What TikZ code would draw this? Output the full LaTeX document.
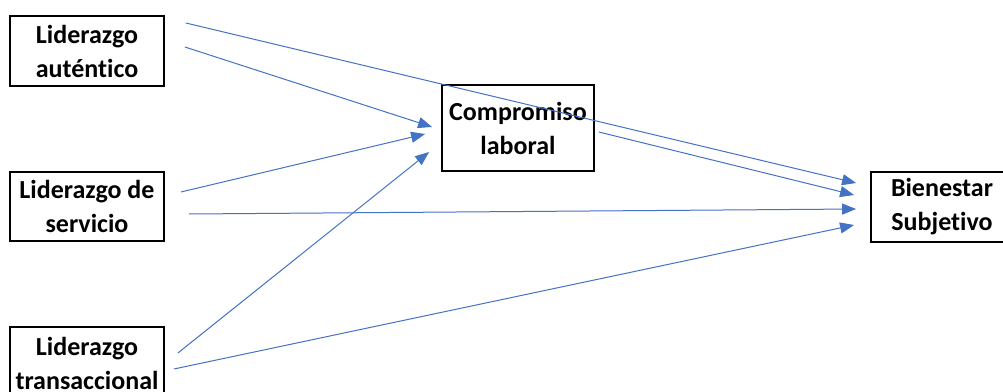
\documentclass[tikz,border=0pt]{standalone}
\usepackage{fontspec}
\setmainfont[Ligatures={NoCommon}]{Carlito}
\usetikzlibrary{arrows.meta}
\definecolor{arrowblue}{RGB}{68,114,196}
\begin{document}
\begin{tikzpicture}[x=1pt,y=-1pt,
  box/.style={draw=black,line width=1.8pt,align=center,inner sep=0pt,
    font=\fontsize{26}{34}\selectfont\bfseries},
  link/.style={draw=arrowblue,line width=1pt,-{Triangle[length=14pt,width=11pt]}}]
\useasboundingbox (0,0) rectangle (1003,391);
\fill[white] (0,0) rectangle (1003,391);
\node[box,minimum width=154pt,minimum height=70pt] (a) at (87,51) {Liderazgo\\auténtico};
\node[box,minimum width=154pt,minimum height=69pt] (s) at (87,206.5) {Liderazgo de\\servicio};
\node[box,minimum width=154pt,minimum height=72pt] (t) at (87,363) {Liderazgo\\transaccional};
\node[box,minimum width=152pt,minimum height=86pt] (c) at (518,128) {Compromiso\\laboral};
\node[box,minimum width=142pt,minimum height=70pt] (b) at (942,207) {Bienestar\\Subjetivo};
\draw[link] ([shift={(21,-28)}]a.east) -- ([shift={(-14,-24)}]b.west);
\draw[link] ([shift={(20,-4)}]a.east) -- ([shift={(-9,-1)}]c.west);
\draw[link] ([shift={(16,-14.5)}]s.east) -- ([shift={(-16,6)}]c.west);
\draw[link] ([shift={(24,7.5)}]s.east) -- ([shift={(-14,2)}]b.west);
\draw[link] ([shift={(13,-10)}]t.east) -- ([shift={(-12,24)}]c.west);
\draw[link] ([shift={(9,6)}]t.east) -- ([shift={(-16,18)}]b.west);
\draw[link] ([shift={(4,4)}]c.east) -- ([shift={(-16,-12)}]b.west);
\end{tikzpicture}
\end{document}
